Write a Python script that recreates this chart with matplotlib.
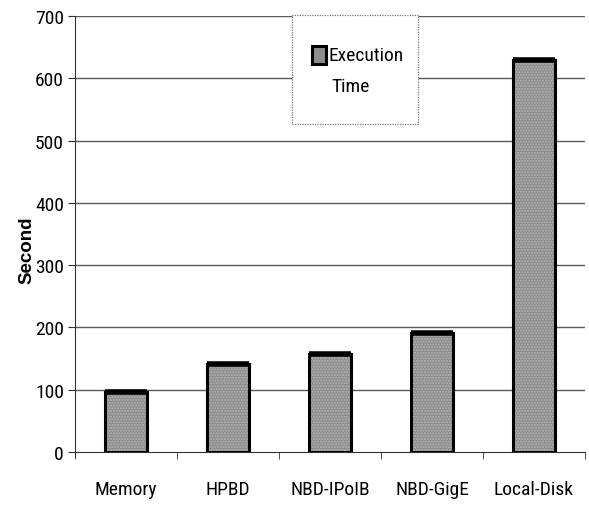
import matplotlib.pyplot as plt
from matplotlib.patches import Rectangle

# Execution time per storage backend
categories = ["Memory", "HPBD", "NBD-IPoIB", "NBD-GigE", "Local-Disk"]
exec_time = [96, 141, 158, 191, 630]
yticks = [0, 100, 200, 300, 400, 500, 600, 700]

NARROW = ["Roboto Condensed", "Liberation Sans", "DejaVu Sans"]
plt.rcParams["font.family"] = NARROW

fig = plt.figure(figsize=(5.89, 5.06), dpi=100)
ax = fig.add_axes([0.1273, 0.1047, 0.8659, 0.8617])

x = list(range(len(categories)))
w = 0.42

ax.set_axisbelow(True)
for y in yticks[1:]:
    ax.axhline(y, color="#5a5a5a", lw=1.0, zorder=0)

# gray dithered fill, then black outline, thick top edge
ax.bar(x, exec_time, width=w, color="#8c8c8c", hatch="......", edgecolor="#b4b4b4",
       linewidth=0, zorder=2)
ax.bar(x, exec_time, width=w, fill=False, edgecolor="black", linewidth=2.2, zorder=3)
ax.hlines(exec_time, [i - w / 2 for i in x], [i + w / 2 for i in x], color="black",
          lw=4, zorder=4)

ax.set_xlim(-0.5, len(categories) - 0.5)
ax.set_ylim(0, 700)
ax.set_yticks(yticks)
ax.set_xticks(x)
ax.set_xticklabels(categories, fontsize=14)
ax.set_xticks([i - 0.5 for i in range(len(categories) + 1)], minor=True)
ax.tick_params(axis="x", which="major", length=0, pad=20.5)
ax.tick_params(axis="x", which="minor", length=5, direction="out", color="#333333")
ax.tick_params(axis="y", length=5, direction="out", labelsize=14, pad=3, color="#333333")

for s in ["top", "right"]:
    ax.spines[s].set_visible(False)
ax.spines["left"].set_color("#333333")
ax.spines["bottom"].set_color("#333333")
ax.spines["left"].set_bounds(-8, 700)

ax.set_ylabel("Second", fontsize=13.5, fontweight="bold",
              family=["Liberation Sans", "DejaVu Sans"])
ax.yaxis.set_label_coords(-0.078, 0.465)

# legend box
ax.add_patch(Rectangle((0.4255, 0.752), 0.248, 0.25, transform=ax.transAxes,
                       facecolor="white", edgecolor="#777777", linestyle=(0, (1, 1)),
                       lw=0.9, zorder=5, clip_on=False))
ax.add_patch(Rectangle((0.4647, 0.890), 0.0275, 0.041, transform=ax.transAxes,
                       facecolor="#8c8c8c", edgecolor="black", lw=2.2, zorder=6,
                       clip_on=False))
ax.text(0.4965, 0.9106, "Execution", transform=ax.transAxes, fontsize=14,
        va="center", ha="left", zorder=7)
ax.text(0.502, 0.84, "Time", transform=ax.transAxes, fontsize=14,
        va="center", ha="left", zorder=7)

fig.savefig("out.png", dpi=100)
